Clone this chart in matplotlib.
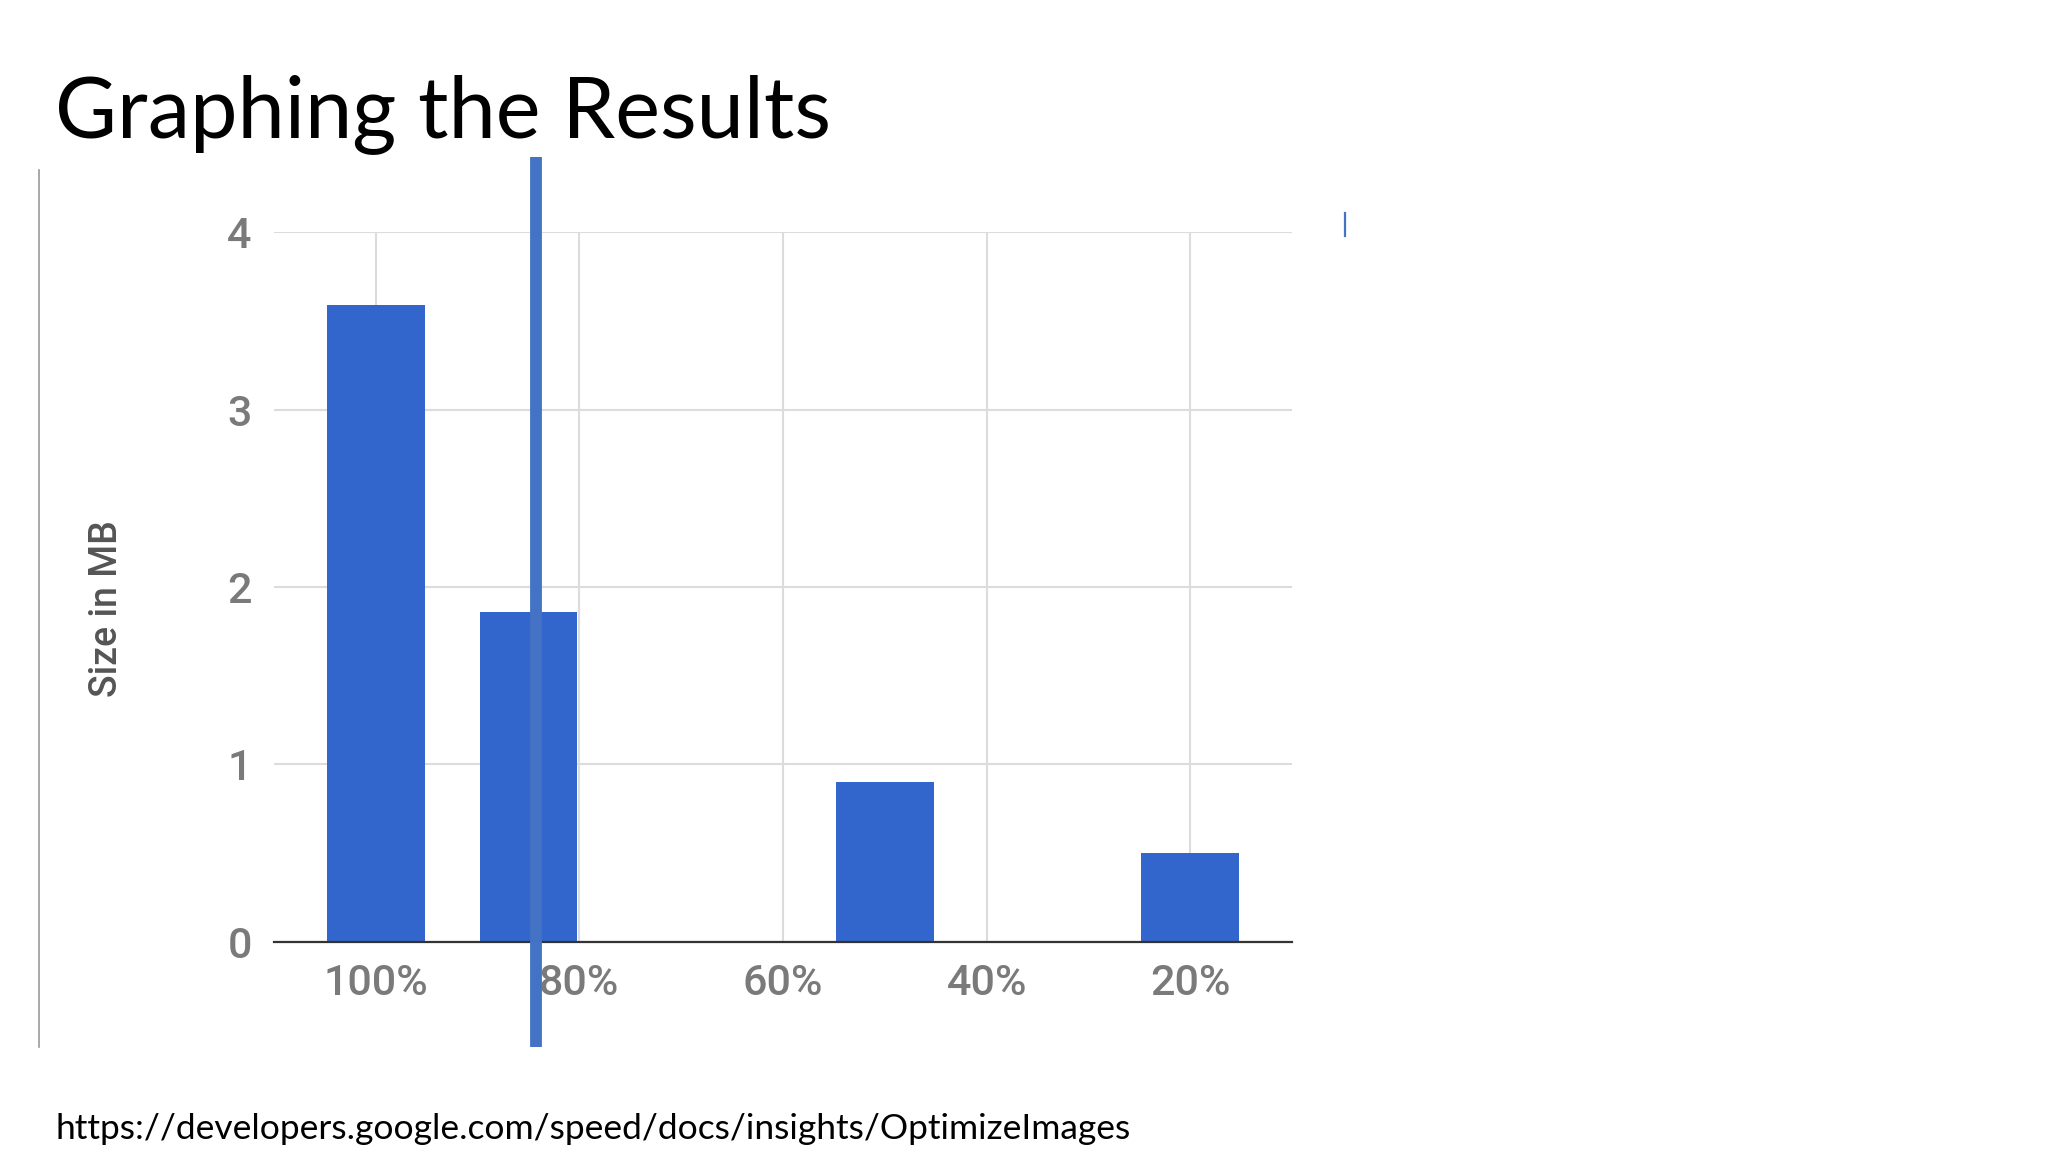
import matplotlib.pyplot as plt
from matplotlib.lines import Line2D

# quality setting (%) and resulting file size (MB)
quality = [100, 85, 50, 20]
size_mb = [3.59, 1.86, 0.90, 0.50]
tick_pos = [100, 80, 60, 40, 20]
tick_labels = ["100%", "80%", "60%", "40%", "20%"]
y_ticks = [0, 1, 2, 3, 4]

title = "Graphing the Results"
source = "https://developers.google.com/speed/docs/insights/OptimizeImages"

fig = plt.figure(figsize=(20.48, 11.52), dpi=100)
ax = fig.add_axes([0.1338, 0.1825, 0.4971, 0.6157])

ax.bar(quality, size_mb, width=9.6, color="#3366CC", zorder=3)

ax.set_xlim(110, 10)
ax.set_ylim(0, 4)
ax.set_xticks(tick_pos)
ax.set_xticklabels(tick_labels)
ax.set_yticks(y_ticks)

ax.grid(True, color="#dcdcdc", linewidth=1.5, zorder=0)
for s in ["top", "right", "left"]:
    ax.spines[s].set_visible(False)
ax.spines["bottom"].set_color("#333333")
ax.spines["bottom"].set_linewidth(1.6)
ax.spines["bottom"].set_zorder(4)

ax.tick_params(axis="both", length=0, labelsize=31, labelcolor="#7a7a7a")
ax.tick_params(axis="x", pad=15)
ax.tick_params(axis="y", pad=16)
for lbl in ax.get_xticklabels() + ax.get_yticklabels():
    lbl.set_family("Roboto")
    lbl.set_fontweight("medium")

ax.set_ylabel("Size in MB", fontsize=27, color="#555555", family="Roboto",
              fontweight="medium", labelpad=0)
ax.yaxis.set_label_coords(-0.146, 0.47)

# overlaid annotation line drawn across the chart
ax.plot([84.3, 84.3], [-0.149, 1.107], color="#4472C4", linewidth=8.5,
        transform=ax.get_xaxis_transform(), clip_on=False, zorder=5,
        solid_capstyle="butt")

# slide decorations
fig.add_artist(Line2D([39 / 2048, 39 / 2048], [1 - 170 / 1152, 1 - 1047 / 1152],
                      color="#9a9a9a", linewidth=1.2))
fig.add_artist(Line2D([1345 / 2048, 1345 / 2048], [1 - 213 / 1152, 1 - 236 / 1152],
                      color="#4472C4", linewidth=1.6))

fig.text(55 / 2048, 1 - 137 / 1152, title, fontsize=61, family="Lato",
         color="black", va="baseline", ha="left")
fig.text(55 / 2048, 1 - 1139 / 1152, source, fontsize=25.5, family="Lato",
         color="black", va="baseline", ha="left")

fig.savefig("out.png", dpi=100, facecolor="white")
